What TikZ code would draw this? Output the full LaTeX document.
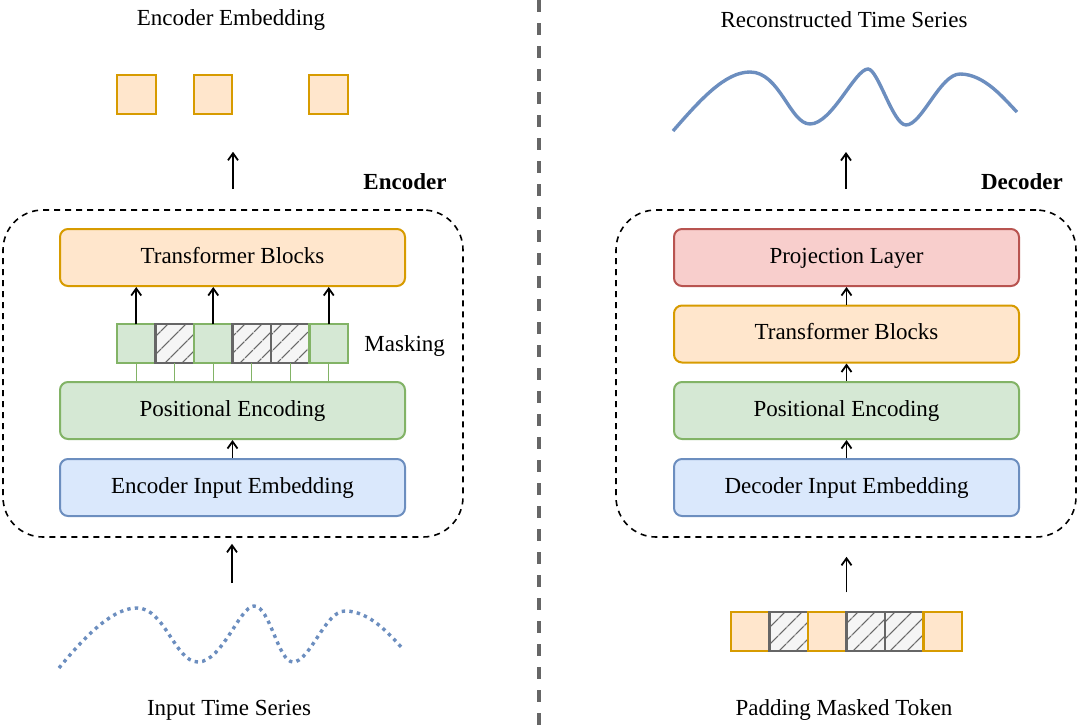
\documentclass[tikz,border=0pt]{standalone}
\usepackage{fontspec}
\setmainfont{Liberation Serif}
\usetikzlibrary{positioning,patterns.meta,arrows.meta}

\definecolor{orfill}{HTML}{FFE6CC}
\definecolor{ordraw}{HTML}{D79B00}
\definecolor{grfill}{HTML}{D5E8D4}
\definecolor{grdraw}{HTML}{82B366}
\definecolor{blfill}{HTML}{DAE8FC}
\definecolor{bldraw}{HTML}{6C8EBF}
\definecolor{rdfill}{HTML}{F8CECC}
\definecolor{rddraw}{HTML}{B85450}
\definecolor{hatchgray}{HTML}{666666}

\tikzset{
  txt/.style={font=\fontsize{11.5}{13}\selectfont, inner sep=0pt},
  block/.style={txt, draw, rounded corners=4pt, line width=1pt,
    text height=8pt, text depth=2.5pt,
    minimum width=172.5pt, minimum height=28.5pt},
  orblock/.style={block, fill=orfill, draw=ordraw},
  grblock/.style={block, fill=grfill, draw=grdraw},
  blblock/.style={block, fill=blfill, draw=bldraw},
  rdblock/.style={block, fill=rdfill, draw=rddraw},
  cell/.style={draw, line width=1.1pt, minimum size=19.25pt, inner sep=0pt, outer sep=0pt},
  grcell/.style={cell, fill=grfill, draw=grdraw},
  orcell/.style={cell, fill=orfill, draw=ordraw},
  maskcell/.style={cell, draw=hatchgray, preaction={fill=gray!8},
    pattern={Lines[angle=45,distance=6.5pt,line width=0.7pt]}, pattern color=hatchgray},
  groupbox/.style={draw, dash pattern=on 3pt off 2.5pt, line width=0.8pt,
    rounded corners=20pt},
  arr/.style={->, line width=0.9pt},
  wave/.style={draw=bldraw, line width=1.7pt},
}

\begin{document}
\begin{tikzpicture}[x=0.5pt,y=-0.5pt,>={Straight Barb[length=3.5pt,width=5pt]}]
  \useasboundingbox (0,0) rectangle (1078,728);

  % encoder side
  \node[txt] (enc-title) at (231,20) {Encoder Embedding};
  \node[orcell] (e1) at (136.5,94.5) {};
  \node[orcell] (e2) at (213,94.5) {};
  \node[orcell] (e3) at (328.5,94.5) {};
  \node[txt, font=\fontsize{11.5}{13}\selectfont\bfseries] (enc-lab) at (405,182) {Encoder};
  \node[groupbox, minimum width=230pt, minimum height=163.5pt] (enc-box) at (233,373.5) {};
  \node[orblock] (enc-tb) at (232.5,257.5) {Transformer Blocks};
  \node[grblock] (enc-pe) at (232.5,410.5) {Positional Encoding};
  \node[blblock] (enc-in) at (232.5,487.5) {Encoder Input Embedding};

  \node[grcell] (m1) at (136.25,343.5) {};
  \node[maskcell, right=0pt of m1] (m2) {};
  \node[grcell, right=0pt of m2] (m3) {};
  \node[maskcell, right=0pt of m3] (m4) {};
  \node[maskcell, right=0pt of m4] (m5) {};
  \node[grcell, right=0pt of m5] (m6) {};
  \node[txt, right=8pt of m6, yshift=-1.5pt] (mask-lab) {Masking};

  \foreach \i in {1,...,6}
    \draw[grdraw, line width=0.7pt] (m\i.south) -- (m\i.south |- enc-pe.north);
  \foreach \i in {1,3,6}
    \draw[arr] (m\i.north) -- (m\i.north |- enc-tb.south);
  \draw[arr] (enc-in.north) -- (enc-pe.south);
  \draw[arr, shorten <=10pt, shorten >=19pt] (enc-box.north) -- (enc-box.north |- e2.south);

  % input series
  \coordinate (wave-in) at (232,583);
  \draw[arr, shorten >=3pt] (wave-in) -- (wave-in |- enc-box.south);
  \draw[wave, dash pattern=on 1.7pt off 2.1pt]
    (59,668) .. controls (90,630) and (115,608) .. (137,608)
    .. controls (165,608) and (175,662) .. (198,662)
    .. controls (222,662) and (240,606) .. (254,606)
    .. controls (270,606) and (278,662) .. (293,662)
    .. controls (310,662) and (325,611) .. (345,611)
    .. controls (370,611) and (390,635) .. (403,649);
  \node[txt] (in-lab) at (229,710) {Input Time Series};

  % separator
  \draw[hatchgray, line width=1.6pt, dash pattern=on 6pt off 5.5pt] (539,0) -- (539,728);

  % decoder side
  \node[txt] (dec-title) at (844,20) {Reconstructed Time Series};
  \draw[wave]
    (673,131) .. controls (700,100) and (725,72) .. (750,72)
    .. controls (780,72) and (790,124) .. (810,124)
    .. controls (832,124) and (855,69) .. (868,69)
    .. controls (878,69) and (893,125) .. (906,125)
    .. controls (922,125) and (940,74) .. (960,74)
    .. controls (985,74) and (1005,100) .. (1017,112);
  \node[txt, font=\fontsize{11.5}{13}\selectfont\bfseries] (dec-lab) at (1022,182) {Decoder};
  \node[groupbox, minimum width=230pt, minimum height=163.5pt] (dec-box) at (846,373.5) {};
  \node[rdblock] (dec-pl) at (846.5,257.5) {Projection Layer};
  \node[orblock] (dec-tb) at (846.5,334) {Transformer Blocks};
  \node[grblock] (dec-pe) at (846.5,410.5) {Positional Encoding};
  \node[blblock] (dec-in) at (846.5,487.5) {Decoder Input Embedding};
  \draw[arr] (dec-in) -- (dec-pe);
  \draw[arr] (dec-pe) -- (dec-tb);
  \draw[arr] (dec-tb) -- (dec-pl);
  \coordinate (wave-out) at (846,152);
  \draw[arr, shorten <=10pt] (dec-box.north) -- (wave-out);

  % padded tokens
  \node[orcell] (p1) at (750.25,631.5) {};
  \node[maskcell, right=0pt of p1] (p2) {};
  \node[orcell, right=0pt of p2] (p3) {};
  \node[maskcell, right=0pt of p3] (p4) {};
  \node[maskcell, right=0pt of p4] (p5) {};
  \node[orcell, right=0pt of p5] (p6) {};
  \draw[arr, shorten <=10pt, shorten >=9.5pt] (p3.north east) -- (p3.north east |- dec-box.south);
  \node[txt] (pad-lab) at (844,710) {Padding Masked Token};
\end{tikzpicture}
\end{document}
